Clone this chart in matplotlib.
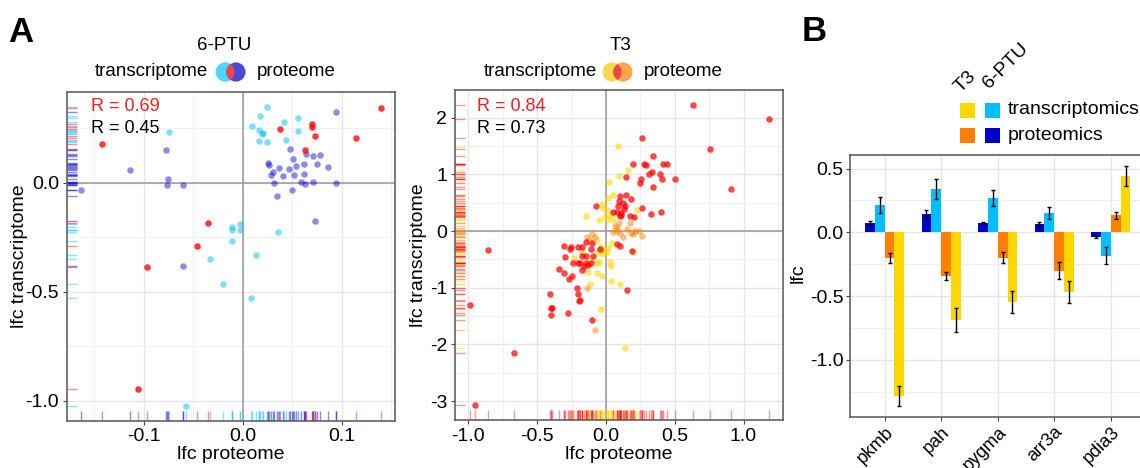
import matplotlib
matplotlib.use("Agg")
import matplotlib.pyplot as plt
from matplotlib.patches import Circle, Rectangle
from matplotlib.ticker import MultipleLocator, FormatStrFormatter
import numpy as np

plt.rcParams['font.family'] = ['Liberation Sans', 'DejaVu Sans']
plt.rcParams['axes.unicode_minus'] = False

# ---------------- data: panel A, 6-PTU ----------------
ptu_trans_x = [0.0243, 0.0179, 0.0095, 0.0162, 0.0203, 0.0196, 0.0162, 0.0250, 0.0419, 0.0560,
               0.0564, 0.0439, -0.0746, -0.0111, -0.0024, -0.0105, -0.0030, 0.0358, -0.0108,
               -0.0328, 0.0138, -0.0196, 0.0088, -0.0578]
ptu_trans_y = [0.349, 0.304, 0.261, 0.242, 0.229, 0.223, 0.190, 0.185, 0.277, 0.298,
               0.239, 0.196, 0.234, -0.202, -0.191, -0.219, -0.219, -0.225, -0.266,
               -0.350, -0.330, -0.465, -0.528, -1.024]
ptu_prot_x = [0.0942, 0.0480, -0.0777, -0.1138, 0.0257, 0.0270, 0.0365, 0.0311, 0.0284, 0.0412,
              0.0473, 0.0513, 0.0537, 0.0615, 0.0642, 0.0709, 0.0780, 0.0756, 0.0861, 0.0621,
              0.0517, 0.0317, 0.0594, 0.0628, 0.0713, 0.0939, 0.0496, 0.0351, 0.0736, -0.0760,
              -0.0767, -0.0601, -0.0608, -0.1635]
ptu_prot_y = [0.324, 0.154, 0.148, 0.057, 0.089, 0.083, 0.066, 0.049, 0.034, 0.031,
              0.063, 0.109, 0.076, 0.087, 0.133, 0.124, 0.128, 0.087, 0.072, 0.041,
              0.037, -0.002, 0.003, -0.005, 0.005, 0.000, -0.032, -0.060, -0.177, 0.018,
              -0.012, -0.009, -0.384, -0.035]
ptu_both_x = [0.1398, 0.0702, 0.0696, 0.0375, 0.0726, 0.1142, 0.0625, -0.1425, -0.0355, -0.0459,
              -0.0973, -0.1054]
ptu_both_y = [0.343, 0.271, 0.254, 0.246, 0.214, 0.203, 0.148, 0.176, -0.187, -0.292,
              -0.387, -0.946]

# ---------------- data: panel A, T3 ----------------
t3_both_x = [0.635, 1.187, 0.262, 0.758, 0.906, 0.339, 0.196, 0.274, 0.288, 0.417, 0.441, 0.392,
             0.407, 0.504, 0.310, 0.332, 0.252, 0.247, 0.344, 0.145, 0.264, 0.327, 0.400, 0.102,
             0.148, 0.179, 0.092, 0.121, 0.140, 0.133, 0.053, 0.082, 0.107, 0.102, 0.111, 0.174,
             0.206, -0.075, 0.087, 0.080, 0.102, 0.187, -0.855, -0.988, -0.950, -0.666, 0.150,
             -0.099, -0.276, -0.397, -0.409, -0.400, -0.390, -0.196, -0.187, -0.201, -0.208,
             -0.339, -0.303, -0.269, -0.245, -0.237, -0.206, -0.187, -0.177, -0.162, -0.145,
             -0.128, -0.109, -0.094, -0.143, -0.174, -0.298, -0.303, -0.254, -0.262, -0.206,
             -0.177, -0.145, -0.104, -0.111, -0.044]
t3_both_y = [2.222, 1.981, 1.640, 1.446, 0.747, 1.317, 1.182, 1.182, 1.158, 1.182, 1.182, 0.999,
             0.917, 0.917, 1.005, 1.035, 0.911, 0.847, 0.776, 0.958, 0.400, 0.306, 0.341, 0.617,
             0.629, 0.570, 0.535, 0.488, 0.435, 0.394, 0.329, 0.341, 0.317, 0.265, 0.276, 0.270,
             0.253, 0.435, 0.435, -0.229, -0.265, -0.347, -0.341, -1.299, -3.069, -2.146, -1.041,
             -1.564, -1.452, -1.481, -1.111, -1.358, -1.352, -1.235, -1.223, -1.105, -1.005,
             -0.676, -0.735, -0.852, -0.788, -0.570, -0.558, -0.570, -0.688, -0.617, -0.570,
             -0.600, -0.558, -0.441, -0.441, -0.441, -0.453, -0.259, -0.288, -0.317, -0.288,
             -0.276, -0.188, -0.206, -0.323, -0.323]
t3_prot_x = [0.065, 0.094, 0.174, 0.213, 0.259, 0.242, 0.150, 0.102, 0.121, 0.078, 0.053,
             -0.136, -0.104, -0.126, -0.078, 0.182, 0.199, 0.080, -0.136, -0.082]
t3_prot_y = [0.094, 0.135, 0.135, 0.006, -0.082, 0.006, 0.035, -0.041, -0.100, 0.006, -0.012,
             -0.100, -0.059, -0.159, -0.100, -0.041, -0.053, 0.047, -1.000, -1.740]
t3_trans_x = [0.085, 0.157, 0.022, 0.094, 0.053, 0.015, -0.029, -0.019, -0.148, -0.051, 0.005,
              0.034, -0.007, 0.017, 0.223, 0.053, -0.068, -0.034, -0.015, 0.017, -0.056, -0.031,
              0.005, 0.041, -0.048, -0.068, -0.111, -0.128, -0.068, -0.031, 0.039, 0.029, -0.116,
              0.034, 0.104, -0.039, 0.136, 0.199, -0.233, -0.177]
t3_trans_y = [1.505, 1.076, 0.870, 0.970, 0.635, 0.576, 0.476, 0.412, 0.265, 0.194, 0.370,
              0.282, 0.253, 0.206, 0.370, 0.194, -0.159, -0.276, -0.335, -0.306, -0.364, -0.406,
              -0.364, -0.218, -0.541, -0.570, -0.511, -0.717, -0.747, -0.794, -0.611, -0.541, -0.935,
              -0.888, -0.941, -1.370, -2.069, -0.376, -0.482, -0.364]

# ---------------- data: panel B ----------------
genes = ['pkmb', 'pah', 'pygma', 'arr3a', 'pdia3']
prot_6ptu = [0.073, 0.144, 0.073, 0.065, -0.037]
prot_6ptu_err = [0.017, 0.030, 0.010, 0.016, 0.009]
trans_6ptu = [0.215, 0.340, 0.270, 0.152, -0.183]
trans_6ptu_err = [0.060, 0.076, 0.060, 0.048, 0.064]
prot_t3 = [-0.200, -0.343, -0.200, -0.300, 0.134]
prot_t3_err = [0.040, 0.034, 0.044, 0.070, 0.028]
trans_t3 = [-1.285, -0.688, -0.547, -0.469, 0.442]
trans_t3_err = [0.080, 0.095, 0.085, 0.087, 0.077]

C_CYAN = '#00BFFF'
C_BLUE = '#0000CD'
C_RED = '#FF0000'
C_YEL = '#FFD700'
C_ORA = '#FF8000'

W, H = 1140, 468
fig = plt.figure(figsize=(W / 100, H / 100), dpi=100)


def fx(p):
    return p / W


def fy(p):
    return 1 - p / H


def axes_px(l, t, r, b):
    return fig.add_axes([fx(l), fy(b), (r - l) / W, (b - t) / H])


def style_scatter(ax, xmaj, xmin, ymaj, ymin, xfmt, yfmt):
    ax.set_facecolor('white')
    ax.xaxis.set_major_locator(MultipleLocator(xmaj))
    ax.xaxis.set_minor_locator(MultipleLocator(xmin))
    ax.yaxis.set_major_locator(MultipleLocator(ymaj))
    ax.yaxis.set_minor_locator(MultipleLocator(ymin))
    ax.xaxis.set_major_formatter(FormatStrFormatter(xfmt))
    ax.yaxis.set_major_formatter(FormatStrFormatter(yfmt))
    ax.grid(which='major', color='#E6E6E6', lw=1.0, zorder=0)
    ax.grid(which='minor', color='#F0F0F0', lw=0.7, zorder=0)
    ax.set_axisbelow(True)
    ax.tick_params(which='major', length=3, width=0.8, color='#444444', pad=2.5,
                   labelsize=14, labelcolor='black')
    ax.tick_params(which='minor', length=0)
    for s in ax.spines.values():
        s.set_color('#555555')
        s.set_linewidth(1.1)
    ax.axhline(0, color='#9A9A9A', lw=1.1, zorder=1)
    ax.axvline(0, color='#9A9A9A', lw=1.1, zorder=1)


def rug(ax, xs, ys, color, alpha):
    ax.vlines(xs, 0, 0.03, transform=ax.get_xaxis_transform(), colors=color,
              lw=1.0, alpha=alpha, zorder=2)
    ax.hlines(ys, 0, 0.03, transform=ax.get_yaxis_transform(), colors=color,
              lw=1.0, alpha=alpha, zorder=2)


# ---------------- Panel A1 (6-PTU) ----------------
ax1 = axes_px(66.7, 91.7, 395, 420.7)
style_scatter(ax1, 0.1, 0.05, 0.5, 0.25, '%.1f', '%.1f')
ax1.set_xlim(-0.178, 0.154)
ax1.set_ylim(-1.092, 0.417)
for xs, ys, c, a in [(ptu_trans_x, ptu_trans_y, C_CYAN, 0.5),
                     (ptu_prot_x, ptu_prot_y, C_BLUE, 0.45),
                     (ptu_both_x, ptu_both_y, C_RED, 0.78)]:
    ax1.scatter(xs, ys, s=22, color=c, alpha=a, linewidths=0, zorder=3)
    rug(ax1, xs, ys, c, 0.45)
ax1.set_xlabel('lfc proteome', fontsize=14)
ax1.set_ylabel('lfc transcriptome', fontsize=14)
ax1.xaxis.set_label_coords(0.5, -0.078)
ax1.yaxis.set_label_coords(-0.118, 0.5)
ax1.text(0.073, 0.954, 'R = 0.69', color='#F22020', fontsize=13, transform=ax1.transAxes,
         ha='left', va='center')
ax1.text(0.073, 0.889, 'R = 0.45', color='black', fontsize=13, transform=ax1.transAxes,
         ha='left', va='center')

# ---------------- Panel A2 (T3) ----------------
ax2 = axes_px(455, 90, 783.3, 420)
style_scatter(ax2, 0.5, 0.25, 1, 0.5, '%.1f', '%d')
ax2.set_xlim(-1.097, 1.289)
ax2.set_ylim(-3.333, 2.487)
for xs, ys, c, a in [(t3_trans_x, t3_trans_y, C_YEL, 0.6),
                     (t3_prot_x, t3_prot_y, C_ORA, 0.5),
                     (t3_both_x, t3_both_y, C_RED, 0.72)]:
    ax2.scatter(xs, ys, s=22, color=c, alpha=a, linewidths=0, zorder=3)
    rug(ax2, xs, ys, c, 0.4)
ax2.set_xlabel('lfc proteome', fontsize=14)
ax2.set_ylabel('lfc transcriptome', fontsize=14)
ax2.xaxis.set_label_coords(0.5, -0.08)
ax2.yaxis.set_label_coords(-0.086, 0.5)
ax2.text(0.066, 0.949, 'R = 0.84', color='#F22020', fontsize=13, transform=ax2.transAxes,
         ha='left', va='center')
ax2.text(0.066, 0.884, 'R = 0.73', color='black', fontsize=13, transform=ax2.transAxes,
         ha='left', va='center')

# ---------------- titles + venn icons ----------------
fig.text(fx(224), fy(45), '6-PTU', ha='center', va='center', fontsize=13.5)
fig.text(fx(208), fy(72), 'transcriptome', ha='right', va='center', fontsize=13.5)
fig.text(fx(257), fy(72), 'proteome', ha='left', va='center', fontsize=13.5)
fig.text(fx(620), fy(45), 'T3', ha='center', va='center', fontsize=13.5)
fig.text(fx(597), fy(72), 'transcriptome', ha='right', va='center', fontsize=13.5)
fig.text(fx(644), fy(72), 'proteome', ha='left', va='center', fontsize=13.5)


def venn(left_px, c1, c2):
    iax = axes_px(left_px, 60, left_px + 36, 84)
    iax.set_xlim(0, 36)
    iax.set_ylim(0, 24)
    iax.axis('off')
    r = 9.6
    a = Circle((11.6, 12), r, color=c1, lw=0)
    b = Circle((22.4, 12), r, color=c2, lw=0)
    iax.add_patch(a)
    iax.add_patch(b)
    ov = Circle((22.4, 12), r, color='#F04545', lw=0)
    iax.add_patch(ov)
    ov.set_clip_path(a)


venn(213.5, '#4FD4FF', '#4848D8')
venn(600.5, '#FFD84A', '#FFA24A')

# ---------------- Panel B ----------------
axB = axes_px(850.3, 155, 1145, 417.3)
xpos = np.arange(len(genes))
w = 0.174
ekw = dict(ecolor='black', elinewidth=1.0, capsize=1.6, capthick=1.0)
for off, vals, errs, c in [(-1.5, prot_6ptu, prot_6ptu_err, C_BLUE),
                           (-0.5, trans_6ptu, trans_6ptu_err, C_CYAN),
                           (0.5, prot_t3, prot_t3_err, C_ORA),
                           (1.5, trans_t3, trans_t3_err, C_YEL)]:
    axB.bar(xpos + off * w, vals, width=w, color=c, yerr=errs, error_kw=ekw, zorder=3)
axB.set_xlim(-0.608, 4.606)
axB.set_ylim(-1.452, 0.607)
axB.set_xticks(xpos)
axB.set_xticklabels(genes, rotation=45, ha='right', rotation_mode='anchor', fontsize=13)
axB.yaxis.set_major_locator(MultipleLocator(0.5))
axB.yaxis.set_minor_locator(MultipleLocator(0.25))
axB.yaxis.set_major_formatter(FormatStrFormatter('%.1f'))
axB.grid(which='major', color='#E6E6E6', lw=1.0, zorder=0)
axB.grid(which='minor', axis='y', color='#F0F0F0', lw=0.7, zorder=0)
axB.set_axisbelow(True)
axB.tick_params(which='major', length=3, width=0.8, color='#444444', pad=2, labelsize=14)
axB.tick_params(axis='x', labelsize=13, pad=1.5)
axB.tick_params(which='minor', length=0)
for s in axB.spines.values():
    s.set_color('#555555')
    s.set_linewidth(1.1)
axB.set_ylabel('lfc', fontsize=14)
axB.yaxis.set_label_coords(-0.148, 0.55)

# legend of panel B
for (lx, ty, c) in [(960, 102.7, C_YEL), (985, 102.7, C_CYAN),
                    (960, 127.7, C_ORA), (985, 127.7, C_BLUE)]:
    fig.add_artist(Rectangle((fx(lx), fy(ty + 15)), 15 / W, 15 / H, color=c,
                             transform=fig.transFigure, lw=0))
fig.text(fx(1008), fy(110), 'transcriptomics', ha='left', va='center', fontsize=14)
fig.text(fx(1008), fy(135), 'proteomics', ha='left', va='center', fontsize=14)
fig.text(fx(961), fy(93), 'T3', rotation=45, ha='left', va='baseline',
         rotation_mode='anchor', fontsize=14)
fig.text(fx(989), fy(89), '6-PTU', rotation=45, ha='left', va='baseline',
         rotation_mode='anchor', fontsize=14)

# panel letters
fig.text(fx(8), fy(42), 'A', fontsize=25, fontweight='bold', va='baseline', ha='left')
fig.text(fx(802), fy(41), 'B', fontsize=25, fontweight='bold', va='baseline', ha='left')

fig.savefig('out.png', dpi=100)
